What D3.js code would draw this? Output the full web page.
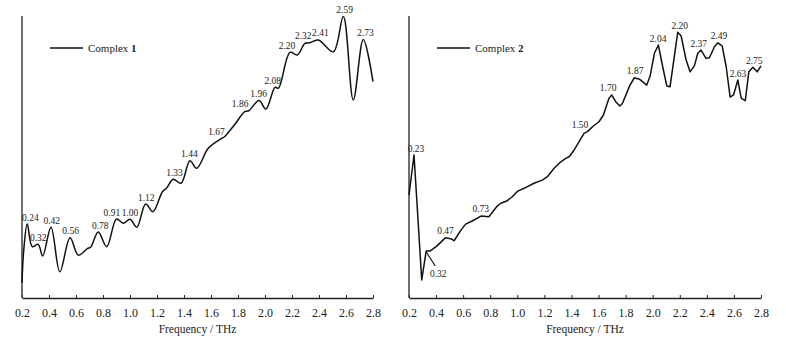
<!DOCTYPE html>
<html>
<head>
<meta charset="utf-8">
<script src="https://cdn.jsdelivr.net/npm/d3@7"></script>
<style>
  body { margin: 0; background: #fff; }
  svg text { font-family: "Liberation Serif", "Times New Roman", "DejaVu Serif", serif; fill: #222; }
</style>
</head>
<body>
<div id="chart"></div>
<script>
// frequency (THz) and absorption (arbitrary units, 0-100)
const freq1 = [0.200, 0.213, 0.239, 0.276, 0.320, 0.353, 0.415, 0.480, 0.556, 0.617, 0.684, 0.710,
    0.765, 0.827, 0.900, 0.950, 1.000, 1.050, 1.116, 1.170, 1.240, 1.270, 1.320, 1.378, 1.444, 1.494,
    1.580, 1.680, 1.700, 1.780, 1.850, 1.880, 1.955, 2.007, 2.074, 2.100, 2.185, 2.240, 2.296, 2.330,
    2.395, 2.506, 2.580, 2.654, 2.728, 2.800];
const abs1 = [5.3, 17.0, 26.2, 18.2, 19.0, 14.9, 25.1, 9.3, 21.4, 15.2, 17.5, 18.1,
    23.4, 18.2, 28.0, 26.5, 27.9, 25.1, 33.3, 30.6, 37.7, 38.9, 42.1, 40.7, 48.7, 46.0,
    53.1, 56.6, 57.2, 61.8, 66.1, 66.4, 70.0, 67.0, 74.7, 74.4, 87.1, 86.2, 90.3, 90.5,
    91.5, 87.3, 99.8, 70.2, 91.7, 76.7];

const freq2 = [0.200, 0.237, 0.294, 0.327, 0.357, 0.405, 0.470, 0.515, 0.533, 0.580, 0.618, 0.667,
    0.735, 0.790, 0.852, 0.878, 0.926, 0.963, 1.000, 1.050, 1.123, 1.185, 1.222, 1.272, 1.321, 1.358,
    1.383, 1.420, 1.493, 1.518, 1.562, 1.603, 1.636, 1.677, 1.697, 1.727, 1.757, 1.776, 1.832, 1.865,
    1.902, 1.956, 1.981, 2.013, 2.042, 2.074, 2.104, 2.128, 2.185, 2.210, 2.247, 2.276, 2.308, 2.333,
    2.357, 2.394, 2.419, 2.456, 2.481, 2.513, 2.543, 2.572, 2.597, 2.629, 2.654, 2.684, 2.710, 2.740,
    2.772, 2.800];
const abs2 = [36.5, 50.7, 6.4, 16.7, 16.7, 18.4, 21.4, 20.9, 20.3, 23.8, 26.2, 27.3,
    29.1, 28.8, 32.6, 33.6, 34.5, 35.9, 37.8, 38.9, 40.7, 41.8, 43.0, 46.0, 48.3, 49.5,
    50.1, 52.5, 58.4, 59.0, 61.0, 62.5, 64.9, 70.8, 72.0, 69.6, 68.1, 69.0, 75.5, 78.1,
    77.6, 75.5, 78.7, 86.8, 89.7, 82.0, 75.2, 74.9, 94.2, 92.9, 84.4, 80.2, 82.3, 86.8,
    87.9, 85.0, 85.2, 89.1, 90.5, 89.4, 82.0, 71.2, 72.0, 77.3, 70.8, 70.0, 80.2, 81.8,
    80.2, 82.3];

const peaks1 = [0.24, 0.32, 0.42, 0.56, 0.78, 0.91, 1.00, 1.12, 1.33, 1.44, 1.67, 1.86, 1.96,
    2.08, 2.20, 2.32, 2.41, 2.59, 2.73];
const peaks2 = [0.23, 0.32, 0.47, 0.73, 1.50, 1.70, 1.87, 2.04, 2.20, 2.37, 2.49, 2.63, 2.75];

const xTicks = [0.2, 0.4, 0.6, 0.8, 1.0, 1.2, 1.4, 1.6, 1.8, 2.0, 2.2, 2.4, 2.6, 2.8];
const seriesNames = ["1", "2"];

const serif = "'Liberation Serif', 'Times New Roman', 'DejaVu Serif', serif";
const width = 786, height = 341;
const svg = d3.select("#chart").append("svg")
    .attr("width", width)
    .attr("height", height)
    .attr("font-family", serif);

const y = d3.scaleLinear().domain([0, 100]).range([298, 16]);

// small horizontal nudges for labels that sit off their peak
const nudge1 = { "0.24": 3, "0.91": -6, "1.67": -4, "1.86": -6, "1.96": -1, "2.08": -3, "2.20": -5, "2.32": -5, "2.73": 2 };
const nudge2 = { "0.23": 3, "1.50": -5, "1.70": -4, "2.37": -4 };

function drawPanel(x0, x1, freqs, vals, peaks, name, smooth, nudge) {
    const x = d3.scaleLinear().domain([0.2, 2.8]).range([x0, x1]);
    const g = svg.append("g");
    const data = freqs.map((f, i) => ({ f: f, v: vals[i] }));

    // y axis (plain line, no ticks)
    g.append("line")
        .attr("x1", x0).attr("x2", x0)
        .attr("y1", y(100)).attr("y2", y(0))
        .attr("stroke", "#222").attr("stroke-width", 1.3);

    const ax = g.append("g")
        .attr("transform", `translate(0,${y(0)})`)
        .call(d3.axisBottom(x).tickValues(xTicks).tickFormat(d3.format(".1f"))
            .tickSizeInner(-3).tickSizeOuter(0).tickPadding(10));
    ax.attr("font-family", serif);
    ax.select(".domain").attr("stroke", "#222").attr("stroke-width", 1.3);
    ax.selectAll(".tick line").attr("stroke", "#222");
    ax.selectAll(".tick text")
        .attr("font-size", 12)
        .attr("fill", "#222");

    g.append("text")
        .attr("x", (x0 + x1) / 2)
        .attr("y", 333)
        .attr("text-anchor", "middle")
        .attr("font-size", 11.5)
        .text("Frequency / THz");

    const line = d3.line()
        .x(d => x(d.f))
        .y(d => y(d.v))
        .curve(smooth ? d3.curveCatmullRom.alpha(0.5) : d3.curveLinear);

    g.append("path")
        .datum(data)
        .attr("fill", "none")
        .attr("stroke", "#111")
        .attr("stroke-width", 1.5)
        .attr("stroke-linejoin", "round")
        .attr("d", line);

    // peak labels
    peaks.forEach(p => {
        const near = data.filter(d => Math.abs(d.f - p) <= 0.03);
        const top = d3.max(near, d => d.v);
        const key = p.toFixed(2);
        if (name === "2" && key === "0.32") {
            // label below the dip with a leader line
            const px = x(0.327), py = y(16.7);
            g.append("line")
                .attr("x1", px).attr("y1", py + 1)
                .attr("x2", px + 9).attr("y2", py + 15)
                .attr("stroke", "#222").attr("stroke-width", 1.2);
            g.append("text")
                .attr("x", px + 12).attr("y", py + 26)
                .attr("text-anchor", "middle")
                .attr("font-size", 9.5)
                .text(key);
            return;
        }
        g.append("text")
            .attr("x", x(p) + (nudge[key] || 0))
            .attr("y", y(top) - 3.5)
            .attr("text-anchor", "middle")
            .attr("font-size", 9.5)
            .text(key);
    });

    // legend
    const lx = x0 + 28;
    g.append("line")
        .attr("x1", lx).attr("x2", lx + 33)
        .attr("y1", 48).attr("y2", 48)
        .attr("stroke", "#111").attr("stroke-width", 1.5);
    const t = g.append("text")
        .attr("x", lx + 38).attr("y", 52)
        .attr("font-size", 11);
    t.append("tspan").text("Complex ");
    t.append("tspan").attr("font-weight", "bold").text(name);
}

drawPanel(22, 373, freq1, abs1, peaks1, seriesNames[0], true, nudge1);
drawPanel(409, 761, freq2, abs2, peaks2, seriesNames[1], false, nudge2);
</script>
</body>
</html>
